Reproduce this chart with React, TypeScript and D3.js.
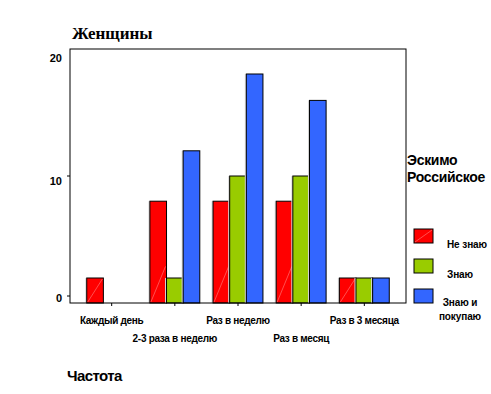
import React from "react";
import * as d3 from "d3";

// частота потребления (женщины), % по группам
const categories = ["Каждый день", "2-3  раза в неделю", "Раз в неделю", "Раз в месяц", "Раз в 3 месяца"];
const seriesNames = ["Не знаю", "Знаю", "Знаю и покупаю"];
const neZnayu = [1.5, 7.9, 7.9, 7.9, 1.5];
const znayu = [0, 1.5, 10, 10, 1.5];
const znayuPokupayu = [0, 12.1, 18.5, 16.3, 1.5];
const yTicks = [0, 10, 20];

const colors = ["#ff0000", "#99cc00", "#3366ff"];
const series = [neZnayu, znayu, znayuPokupayu];

const width = 491;
const height = 394;
const plot = { left: 70, right: 406, top: 49, bottom: 303 };
const sans = "'Liberation Sans', Arial, sans-serif";

const App = () => {
  const x = d3
    .scaleBand()
    .domain(categories)
    .range([plot.left, plot.right])
    .paddingInner(0.21)
    .paddingOuter(0.265);
  const xs = d3.scaleBand().domain(["0", "1", "2"]).range([0, x.bandwidth()]);
  const y = d3.scaleLinear().domain([-0.583, 20.583]).range([plot.bottom, plot.top]);

  const legendLines = [["Не знаю"], ["Знаю"], ["Знаю и", "покупаю"]];

  return (
    <svg
      width={width}
      height={height}
      style={{ position: "absolute", left: 0, top: 0, background: "#fff" }}
    >
      <text x={72} y={39} fontFamily="'Liberation Serif', 'Times New Roman', serif" fontWeight="bold" fontSize={17}>
        Женщины
      </text>

      {/* bars */}
      {categories.map((c, i) => (
        <g key={c}>
          {series.map((s, k) => {
            if (!s[i]) return null;
            const bx = x(c)! + xs(String(k))!;
            const by = y(s[i]);
            const bw = xs.bandwidth();
            return (
              <g key={k}>
                <rect x={bx - 1.5} y={by} width={1.5} height={plot.bottom - by} fill="#d8d8d8" />
                <rect x={bx} y={by} width={bw} height={plot.bottom - by} fill={colors[k]} stroke="#000" strokeWidth={1} />
                {k === 0 && (
                  <line x1={bx + 1} y1={plot.bottom - 1} x2={bx + bw - 1} y2={Math.max(by + 1, plot.bottom - 2.2 * bw)} stroke="#ff7070" strokeWidth={0.7} />
                )}
              </g>
            );
          })}
        </g>
      ))}

      {/* frame */}
      <rect x={plot.left} y={plot.top} width={plot.right - plot.left} height={plot.bottom - plot.top} fill="none" stroke="#000" strokeWidth={1} />

      {/* y axis */}
      {yTicks.map((t) => (
        <g key={t}>
          {t !== 20 && <line x1={plot.left - 3} x2={plot.left} y1={y(t)} y2={y(t)} stroke="#000" />}
          <text x={62} y={y(t) + 3 + (t === 10 ? 3 : 0)} textAnchor="end" dominantBaseline="middle" fontFamily={sans} fontWeight="bold" fontSize={11}>
            {t}
          </text>
        </g>
      ))}

      {/* x axis */}
      {categories.map((c, i) => {
        const cx = x(c)! + x.bandwidth() / 2;
        return (
          <g key={c}>
            <line x1={cx} x2={cx} y1={plot.bottom} y2={plot.bottom + 3} stroke="#000" />
            <text x={cx} y={i % 2 === 0 ? 324 : 342} textAnchor="middle" fontFamily={sans} fontWeight="bold" fontSize={10} letterSpacing={-0.3}>
              {c}
            </text>
          </g>
        );
      })}

      <text x={67} y={381} fontFamily={sans} fontWeight="bold" fontSize={15} letterSpacing={-0.6}>
        Частота
      </text>

      {/* legend */}
      <text x={407} y={165} fontFamily={sans} fontWeight="bold" fontSize={14} letterSpacing={-0.3}>
        Эскимо
      </text>
      <text x={407} y={182} fontFamily={sans} fontWeight="bold" fontSize={14} letterSpacing={-0.3}>
        Российское
      </text>
      {seriesNames.map((n, k) => {
        const ly = 229 + k * 30;
        const lines = legendLines[k];
        return (
          <g key={n}>
            <rect x={414} y={ly} width={19} height={14} fill={colors[k]} stroke="#000" />
            {k === 0 && <line x1={415} y1={ly + 13} x2={432} y2={ly + 1} stroke="#ff7070" strokeWidth={0.7} />}
            {lines.length === 1 ? (
              <text x={447} y={ly + 19} fontFamily={sans} fontWeight="bold" fontSize={10} letterSpacing={-0.1}>
                {lines[0]}
              </text>
            ) : (
              lines.map((l, j) => (
                <text key={l} x={460} y={ly + 17 + j * 14} textAnchor="middle" fontFamily={sans} fontWeight="bold" fontSize={10} letterSpacing={-0.1}>
                  {l}
                </text>
              ))
            )}
          </g>
        );
      })}
    </svg>
  );
};

export default App;
